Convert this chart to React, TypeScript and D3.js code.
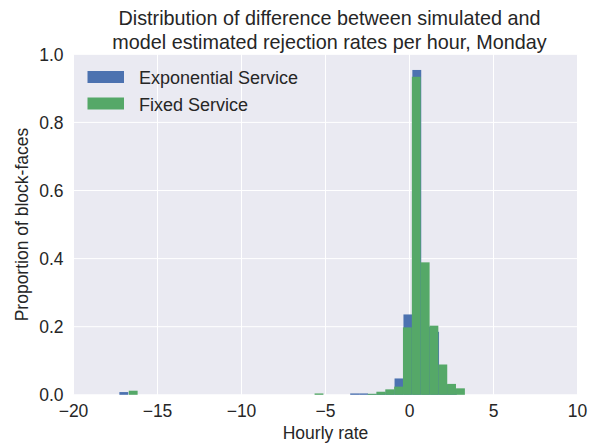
import React from "react";
import * as d3 from "d3";

// histogram bins (left edge of each bin, proportion)
const expBinWidth = 0.5285;
const expBinStart = [-17.27, -3.53, -3.0, -2.47, -1.94, -1.41, -0.89, -0.36, 0.17, 0.7, 1.23, 1.76, 2.29];
const expShare = [0.008, 0.004, 0.004, 0.002, 0.007, 0.013, 0.048, 0.236, 0.954, 0.2, 0.185, 0.03, 0.015];

const fixedBinWidth = 0.5266;
const fixedBinStart = [-16.71, -5.65, -2.49, -1.97, -1.44, -0.91, -0.39, 0.14, 0.67, 1.19, 1.72, 2.24, 2.77];
const fixedShare = [0.012, 0.004, 0.003, 0.009, 0.016, 0.024, 0.198, 0.934, 0.389, 0.203, 0.089, 0.032, 0.019];

const xTicks = [-20, -15, -10, -5, 0, 5, 10];
const yTicks = [0, 0.2, 0.4, 0.6, 0.8, 1.0];

const seriesNames = ["Exponential Service", "Fixed Service"];
const colors = ["#4C72B0", "#55A868"];

const W = 595;
const H = 443;
const left = 73.5;
const right = 577.5;
const top = 54.3;
const bottom = 394.8;
const font = "'Liberation Sans', Arial, sans-serif";

const Bars = ({ starts, values, width, x, y, color }) => (
  <g>
    {starts.map((s, i) => (
      <rect
        key={i}
        x={x(s)}
        y={y(values[i])}
        width={x(s + width) - x(s)}
        height={y(0) - y(values[i])}
        fill={color}
      />
    ))}
  </g>
);

export default function App() {
  const x = d3.scaleLinear().domain([-20, 10]).range([left, right]);
  const y = d3.scaleLinear().domain([0, 1]).range([bottom, top]);
  const fmt = d3.format(".1f");

  return (
    <svg width={W} height={H} style={{ position: "absolute", left: 0, top: 0 }} fontFamily={font}>
      <rect x={0} y={0} width={W} height={H} fill="white" />
      <rect x={left} y={top} width={right - left} height={bottom - top} fill="#EAEAF2" />
      {xTicks.map((t) => (
        <line key={"gx" + t} x1={x(t)} x2={x(t)} y1={top} y2={bottom} stroke="white" strokeWidth={1} />
      ))}
      {yTicks.map((t) => (
        <line key={"gy" + t} x1={left} x2={right} y1={y(t)} y2={y(t)} stroke="white" strokeWidth={1} />
      ))}
      <Bars starts={expBinStart} values={expShare} width={expBinWidth} x={x} y={y} color={colors[0]} />
      <Bars starts={fixedBinStart} values={fixedShare} width={fixedBinWidth} x={x} y={y} color={colors[1]} />

      {xTicks.map((t) => (
        <text key={"tx" + t} x={x(t)} y={bottom + 22} textAnchor="middle" fontSize={17.5} fill="#262626">
          {t < 0 ? "\u2212" + Math.abs(t) : t}
        </text>
      ))}
      {yTicks.map((t) => (
        <text key={"ty" + t} x={left - 10} y={y(t) + 6.5} textAnchor="end" fontSize={17.5} fill="#262626">
          {fmt(t)}
        </text>
      ))}

      <text x={(left + right) / 2} y={439} textAnchor="middle" fontSize={17.5} fill="#262626">
        Hourly rate
      </text>
      <text
        transform={`translate(28 ${(top + bottom) / 2}) rotate(-90)`}
        textAnchor="middle"
        fontSize={17.5}
        fill="#262626"
      >
        Proportion of block-faces
      </text>

      <text x={(left + right) / 2 + 4} y={25} textAnchor="middle" fontSize={19.8} fill="#262626">
        Distribution of difference between simulated and
      </text>
      <text x={(left + right) / 2 + 4} y={49} textAnchor="middle" fontSize={19.8} fill="#262626">
        model estimated rejection rates per hour, Monday
      </text>

      {seriesNames.map((name, i) => (
        <g key={name} transform={`translate(0 ${i * 26.5})`}>
          <rect x={87.5} y={71} width={36.5} height={12} fill={colors[i]} />
          <text x={139} y={84} fontSize={18} fill="#262626">
            {name}
          </text>
        </g>
      ))}
    </svg>
  );
}
